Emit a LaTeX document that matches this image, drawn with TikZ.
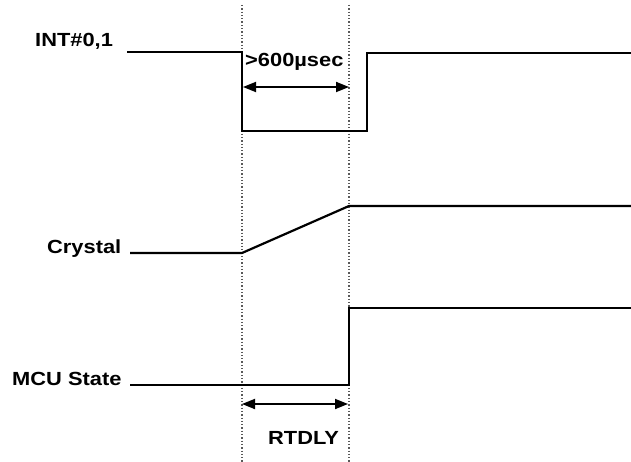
\documentclass[tikz,border=0pt]{standalone}
\usepackage{fontspec}
\setmainfont{Liberation Sans}[FakeStretch=1.15]
\usetikzlibrary{arrows.meta,positioning,calc}
\tikzset{sig/.style={line width=2.2pt,draw=black},guide/.style={dotted,line width=1.3pt,draw=black!65},
lbl/.style={font=\fontsize{19}{22}\selectfont\bfseries,inner sep=0pt,anchor=base west},
span/.style={{Triangle[length=13pt,width=10pt]}-{Triangle[length=13pt,width=10pt]},line width=1.8pt}}

\begin{document}
\begin{tikzpicture}[x=1pt,y=-1pt]
\useasboundingbox(0,0)rectangle(631,462);
% marker lines
\coordinate(t0top)at(242,5);\coordinate(t0bot)at(242,462);
\coordinate(t1top)at(349,5);\coordinate(t1bot)at(349,462);
\draw[guide](t0top)--(t0bot);\draw[guide](t1top)--(t1bot);
% INT#0,1
\node[lbl](intlbl)at(35,47){INT\#0,1};
\coordinate(intA)at(127,52);\coordinate(intB)at(242,52);\coordinate(intC)at(242,131);
\coordinate(intD)at(367,131);\coordinate(intE)at(367,53);\coordinate(intF)at(631,53);
\draw[sig](intA)--(intB)--(intC)--(intD)--(intE)--(intF);
\node[lbl](wide)at(245,67){>600µsec};
\coordinate(wideL)at(243,87);\coordinate(wideR)at(349,87);
\draw[span](wideL)--(wideR);
% Crystal
\node[lbl](xtallbl)at(47,253){Crystal};
\coordinate(xtalA)at(130,253);\coordinate(xtalB)at(242,253);
\coordinate(xtalC)at(349,206);\coordinate(xtalD)at(631,206);
\draw[sig](xtalA)--(xtalB)--(xtalC)--(xtalD);
% MCU State
\node[lbl](mculbl)at(12,385){MCU State};
\coordinate(mcuA)at(130,385);\coordinate(mcuB)at(349,385);
\coordinate(mcuC)at(349,308);\coordinate(mcuD)at(631,308);
\draw[sig](mcuA)--(mcuB)--(mcuC)--(mcuD);
\coordinate(dlyL)at(242,404);\coordinate(dlyR)at(348,404);
\draw[span](dlyL)--(dlyR);
\node[lbl](dly)at(268,444){RTDLY};
\end{tikzpicture}
\end{document}
